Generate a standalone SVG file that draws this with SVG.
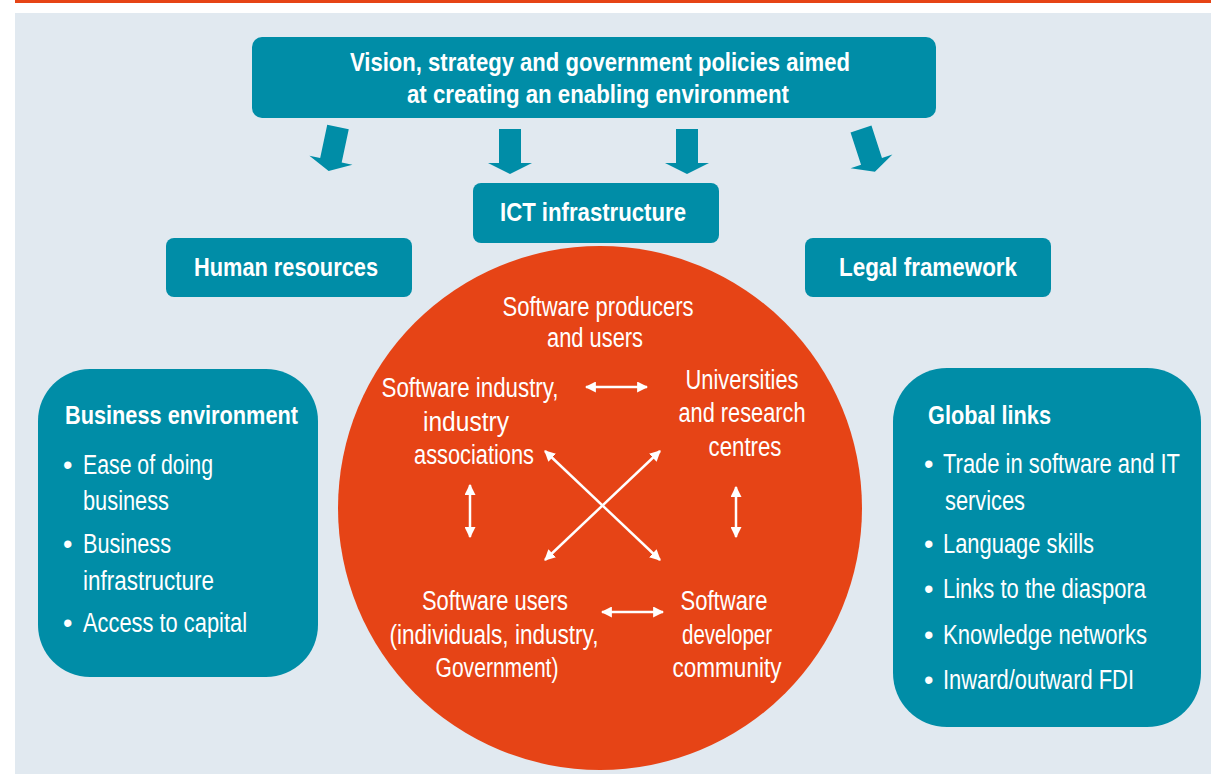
<svg xmlns="http://www.w3.org/2000/svg" width="1211" height="774" viewBox="0 0 1211 774">
<style>
.bg{fill:#e1e9f0}
.teal{fill:#008da7}
.t{font-family:'Liberation Sans',Arial,sans-serif;fill:#fff;font-size:27px}
.b{font-weight:bold;font-size:26px}
.m{text-anchor:middle}
.ln{stroke:#fff;stroke-width:2.5;fill:none;marker-start:url(#ah);marker-end:url(#ah)}
</style>
<defs>
<marker id="ah" viewBox="0 0 10 10" refX="9" refY="5" markerWidth="4.4" markerHeight="4.4" orient="auto-start-reverse" markerUnits="strokeWidth">
<path d="M0,0 L10,5 L0,10 Z" fill="#fff"/>
</marker>
<path id="bigArrow" d="M-11,0 H11 V34 H22 L0,45 L-22,34 H-11 Z"/>
</defs>
<rect x="15" y="0" width="1196" height="3" fill="#e64416"/>
<rect x="15" y="13" width="1196" height="761" class="bg"/>

<g id="vision">
<rect x="252" y="37" width="684" height="81" rx="10" class="teal"/>
<text class="t b m" x="600" y="71" textLength="500" lengthAdjust="spacingAndGlyphs">Vision, strategy and government policies aimed</text>
<text class="t b m" x="598" y="103" textLength="382" lengthAdjust="spacingAndGlyphs">at creating an enabling environment</text>
</g>

<g id="connectors">
<use href="#bigArrow" class="teal" transform="translate(338,127) rotate(12)"/>
<use href="#bigArrow" class="teal" transform="translate(510,129)"/>
<use href="#bigArrow" class="teal" transform="translate(687,129)"/>
<use href="#bigArrow" class="teal" transform="translate(861,129) rotate(-18)"/>
</g>

<g id="ict">
<rect x="473" y="183" width="246" height="60" rx="8" class="teal"/>
<text class="t b m" x="593" y="221" textLength="186" lengthAdjust="spacingAndGlyphs">ICT infrastructure</text>
</g>
<g id="human">
<rect x="166" y="238" width="246" height="59" rx="8" class="teal"/>
<text class="t b m" x="286" y="276" textLength="184" lengthAdjust="spacingAndGlyphs">Human resources</text>
</g>
<g id="legal">
<rect x="805" y="238" width="246" height="59" rx="8" class="teal"/>
<text class="t b m" x="928" y="276" textLength="178" lengthAdjust="spacingAndGlyphs">Legal framework</text>
</g>

<g id="business">
<rect x="38" y="369" width="280" height="308" rx="52" class="teal"/>
<text class="t b" x="65" y="424" textLength="233" lengthAdjust="spacingAndGlyphs">Business environment</text>
<text class="t" x="63" y="474">•</text>
<text class="t" x="83" y="474" textLength="130" lengthAdjust="spacingAndGlyphs">Ease of doing</text>
<text class="t" x="83" y="510" textLength="86" lengthAdjust="spacingAndGlyphs">business</text>
<text class="t" x="63" y="553">•</text>
<text class="t" x="83" y="553" textLength="88" lengthAdjust="spacingAndGlyphs">Business</text>
<text class="t" x="83" y="590" textLength="131" lengthAdjust="spacingAndGlyphs">infrastructure</text>
<text class="t" x="63" y="632">•</text>
<text class="t" x="83" y="632" textLength="164" lengthAdjust="spacingAndGlyphs">Access to capital</text>
</g>

<g id="global">
<rect x="893" y="368" width="308" height="359" rx="54" class="teal"/>
<text class="t b" x="928" y="424" textLength="123" lengthAdjust="spacingAndGlyphs">Global links</text>
<text class="t" x="924" y="473">•</text>
<text class="t" x="943" y="473" textLength="237" lengthAdjust="spacingAndGlyphs">Trade in software and IT</text>
<text class="t" x="945" y="510" textLength="80" lengthAdjust="spacingAndGlyphs">services</text>
<text class="t" x="924" y="553">•</text>
<text class="t" x="943" y="553" textLength="151" lengthAdjust="spacingAndGlyphs">Language skills</text>
<text class="t" x="924" y="598">•</text>
<text class="t" x="943" y="598" textLength="203" lengthAdjust="spacingAndGlyphs">Links to the diaspora</text>
<text class="t" x="924" y="644">•</text>
<text class="t" x="943" y="644" textLength="204" lengthAdjust="spacingAndGlyphs">Knowledge networks</text>
<text class="t" x="924" y="689">•</text>
<text class="t" x="943" y="689" textLength="191" lengthAdjust="spacingAndGlyphs">Inward/outward FDI</text>
</g>

<g id="core">
<circle cx="600" cy="508" r="262" fill="#e64416"/>
<text class="t m" x="598" y="316" textLength="191" lengthAdjust="spacingAndGlyphs">Software producers</text>
<text class="t m" x="595" y="347" textLength="96" lengthAdjust="spacingAndGlyphs">and users</text>
</g>
<g id="industry">
<text class="t m" x="470" y="397" textLength="177" lengthAdjust="spacingAndGlyphs">Software industry,</text>
<text class="t m" x="466" y="431" textLength="86" lengthAdjust="spacingAndGlyphs">industry</text>
<text class="t m" x="474" y="464" textLength="120" lengthAdjust="spacingAndGlyphs">associations</text>
</g>
<g id="universities">
<text class="t m" x="742" y="389" textLength="113" lengthAdjust="spacingAndGlyphs">Universities</text>
<text class="t m" x="742" y="422" textLength="127" lengthAdjust="spacingAndGlyphs">and research</text>
<text class="t m" x="745" y="456" textLength="73" lengthAdjust="spacingAndGlyphs">centres</text>
</g>
<g id="users">
<text class="t m" x="495" y="610" textLength="146" lengthAdjust="spacingAndGlyphs">Software users</text>
<text class="t m" x="494" y="644" textLength="209" lengthAdjust="spacingAndGlyphs">(individuals, industry,</text>
<text class="t m" x="497" y="677" textLength="123" lengthAdjust="spacingAndGlyphs">Government)</text>
</g>
<g id="developers">
<text class="t m" x="724" y="610" textLength="87" lengthAdjust="spacingAndGlyphs">Software</text>
<text class="t m" x="727" y="644" textLength="90" lengthAdjust="spacingAndGlyphs">developer</text>
<text class="t m" x="727" y="677" textLength="109" lengthAdjust="spacingAndGlyphs">community</text>
</g>

<g id="links">
<line class="ln" x1="586" y1="387" x2="647" y2="387"/>
<line class="ln" x1="602" y1="612" x2="663" y2="612"/>
<line class="ln" x1="470" y1="485" x2="470" y2="537"/>
<line class="ln" x1="736" y1="487" x2="736" y2="537"/>
<line class="ln" x1="545" y1="451" x2="660" y2="560"/>
<line class="ln" x1="660" y1="451" x2="545" y2="560"/>
</g>
</svg>
